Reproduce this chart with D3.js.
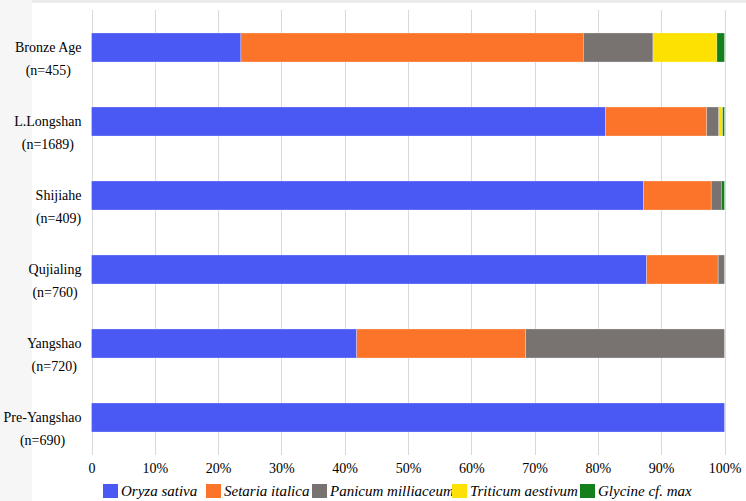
<!DOCTYPE html>
<html>
<head>
<meta charset="utf-8">
<script src="https://cdn.jsdelivr.net/npm/d3@7"></script>
<style>
  html, body { margin: 0; padding: 0; background: #ffffff; }
  svg { display: block; }
</style>
</head>
<body>
<script>
// ---- data ----
const categories = ["Bronze Age", "L.Longshan", "Shijiahe", "Qujialing", "Yangshao", "Pre-Yangshao"];
const sampleSizes = ["(n=455)", "(n=1689)", "(n=409)", "(n=760)", "(n=720)", "(n=690)"];
const seriesNames = ["Oryza sativa", "Setaria italica", "Panicum milliaceum", "Triticum aestivum", "Glycine cf. max"];
const oryza    = [23.6, 81.2, 87.2, 87.7, 41.9, 100];
const setaria  = [54.1, 16.0, 10.7, 11.3, 26.7, 0];
const panicum  = [11.0, 1.9, 1.6, 1.0, 31.4, 0];
const triticum = [10.1, 0.6, 0, 0, 0, 0];
const glycine  = [1.2, 0.3, 0.5, 0, 0, 0];
const tickValues = [0, 10, 20, 30, 40, 50, 60, 70, 80, 90, 100];
const tickLabels = ["0", "10%", "20%", "30%", "40%", "50%", "60%", "70%", "80%", "90%", "100%"];

const colors = ["#4a58f4", "#fb7429", "#787371", "#fde102", "#13801c"];

// ---- layout ----
const W = 746, H = 501;
const svg = d3.select("body").append("svg").attr("width", W).attr("height", H);

// subtle page edges as in the reference
svg.append("rect").attr("x", 0).attr("y", 0).attr("width", 32).attr("height", H).attr("fill", "#f7f6f6");
svg.append("rect").attr("x", 32).attr("y", 0).attr("width", W - 32).attr("height", 3).attr("fill", "#ececec");

const x = d3.scaleLinear().domain([0, 100]).range([91.5, 724.5]);
const y = d3.scaleBand().domain(categories).range([10.5, 454.5]).paddingInner(0.608).paddingOuter(0.304);

// gridlines
svg.append("g").selectAll("line").data(tickValues).join("line")
  .attr("x1", d => Math.round(x(d)) + 0.5).attr("x2", d => Math.round(x(d)) + 0.5)
  .attr("y1", 10).attr("y2", 455)
  .attr("stroke", "#d9d9d9").attr("stroke-width", 1);

// x axis labels via d3 axis
const xAxis = d3.axisBottom(x).tickValues(tickValues).tickFormat((d, i) => tickLabels[i]).tickSize(0).tickPadding(0);
const gx = svg.append("g").attr("transform", "translate(0,461)").call(xAxis);
gx.select(".domain").remove();
gx.selectAll("text")
  .attr("font-family", "'Liberation Serif', 'Times New Roman', serif")
  .attr("font-size", 14).attr("fill", "#000").attr("dy", "0.85em");

// stacked data
const rows = categories.map((c, i) => ({
  cat: c, vals: [oryza[i], setaria[i], panicum[i], triticum[i], glycine[i]]
}));
const stackData = rows.map(r => {
  const o = { cat: r.cat };
  seriesNames.forEach((s, j) => o[s] = r.vals[j]);
  return o;
});
const stacked = d3.stack().keys(seriesNames)(stackData);

svg.append("g").selectAll("g").data(stacked).join("g")
  .attr("fill", (d, i) => colors[i])
  .selectAll("rect").data(d => d.filter(p => p[1] - p[0] > 0)).join("rect")
  .attr("x", d => x(d[0]))
  .attr("width", d => x(d[1]) - x(d[0]))
  .attr("y", d => y(d.data.cat))
  .attr("height", y.bandwidth())
  .attr("stroke", "#ffffff").attr("stroke-opacity", 0.45).attr("stroke-width", 0.6);

// category labels (two lines, block right edge ~81)
const labelFont = "'Liberation Serif', 'Times New Roman', serif";
const lg = svg.append("g");
categories.forEach((c, i) => {
  const cy = y(c) + y.bandwidth() / 2;
  const t1 = lg.append("text").text(c)
    .attr("font-family", labelFont).attr("font-size", 14).attr("fill", "#000")
    .attr("text-anchor", "middle").attr("y", cy + 4.5);
  const t2 = lg.append("text").text(sampleSizes[i])
    .attr("font-family", labelFont).attr("font-size", 14).attr("fill", "#000")
    .attr("text-anchor", "middle").attr("y", cy + 27);
  const w = Math.max(t1.node().getComputedTextLength(), t2.node().getComputedTextLength());
  const cx = 81.5 - w / 2;
  t1.attr("x", cx); t2.attr("x", cx);
});

// legend
const legendX = [103, 206, 312, 452, 580];
const leg = svg.append("g");
seriesNames.forEach((s, i) => {
  leg.append("rect").attr("x", legendX[i]).attr("y", 484).attr("width", 15).attr("height", 14)
    .attr("fill", colors[i]);
  leg.append("text").text(s)
    .attr("x", legendX[i] + 18).attr("y", 496)
    .attr("font-family", labelFont).attr("font-size", 15).attr("font-style", "italic")
    .attr("fill", "#000");
});
</script>
</body>
</html>
